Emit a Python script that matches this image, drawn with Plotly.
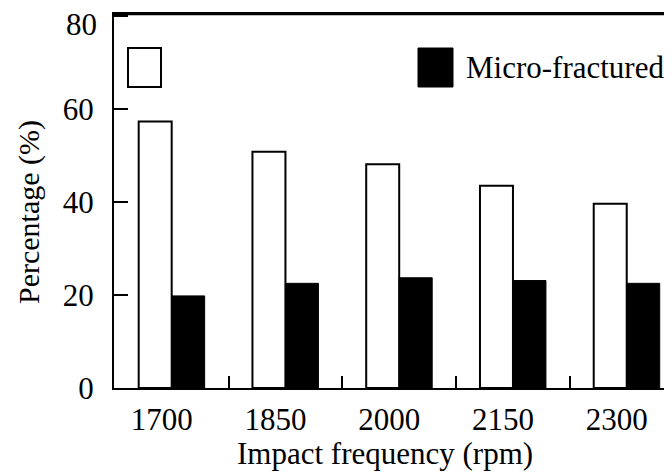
import plotly.graph_objects as go

categories = ["1700", "1850", "2000", "2150", "2300"]
white_values = [57.3, 50.8, 48.1, 43.5, 39.6]
black_values = [19.8, 22.5, 23.7, 23.1, 22.5]
legend_black = "Micro-fractured"
y_ticks = [0, 20, 40, 60, 80]
x_title = "Impact frequency (rpm)"
y_title = "Percentage (%)"

FONT = "Liberation Serif"
OFF = 8  # page body margin
W, H = 672 - OFF, 472 - OFF
L, T = 114 - OFF, 14 - OFF
R = 0
B = H - (388 - OFF)
PW, PH = W - L - R, H - T - B

def px(x):
    return (x - OFF - L) / PW

def py(y):
    return (H - B - (y - OFF)) / PH

xpos = list(range(len(categories)))

fig = go.Figure()
fig.add_trace(go.Bar(x=xpos, y=white_values, name="",
                     marker=dict(color="white", line=dict(color="black", width=2)),
                     showlegend=False))
fig.add_trace(go.Bar(x=xpos, y=black_values, name=legend_black,
                     marker=dict(color="black", line=dict(color="black", width=1)),
                     showlegend=False))

fig.update_layout(
    width=W, height=H,
    margin=dict(l=L, r=R, t=T, b=B, pad=0, autoexpand=False),
    paper_bgcolor="white", plot_bgcolor="white",
    barmode="group", bargap=0.42, bargroupgap=0,
    font=dict(family=FONT, size=31, color="black"),
    showlegend=False,
)

fig.update_xaxes(
    range=[-0.507, 4.398], automargin=False,
    tickvals=xpos, ticktext=categories,
    ticks="", showgrid=False, zeroline=False,
    showline=True, linecolor="black", linewidth=2, mirror=True,
    ticklabelshift=-10, ticklabelstandoff=3,
    tickfont=dict(family=FONT, size=31),
    minor=dict(tickvals=[0.5, 1.5, 2.5, 3.5], ticks="inside", ticklen=12,
               tickwidth=2, tickcolor="black", showgrid=False),
)
fig.update_yaxes(
    range=[0, 80.4], automargin=False,
    tickvals=y_ticks, ticktext=[str(v) if v != 80 else "" for v in y_ticks],
    ticks="inside", ticklen=14, tickwidth=2, tickcolor="black",
    showgrid=False, zeroline=False,
    showline=True, linecolor="black", linewidth=2, mirror=False,
    ticklabelstandoff=12,
    tickfont=dict(family=FONT, size=31),
)

# solid top frame line
fig.add_shape(type="line", xref="paper", yref="paper", x0=-0.002, x1=1, y0=1, y1=1,
              line=dict(color="black", width=2.5))

# top tick label drawn slightly lower as in the reference
fig.add_annotation(text="80", xref="paper", yref="y", x=0, y=80, xanchor="right",
                   yanchor="middle", xshift=-15, yshift=-9, showarrow=False,
                   font=dict(family=FONT, size=31))

# axis titles
fig.add_annotation(text=x_title, xref="paper", yref="paper", x=px(385), y=py(453),
                   xanchor="center", yanchor="middle", showarrow=False,
                   font=dict(family=FONT, size=31))
fig.add_annotation(text=y_title, xref="paper", yref="paper", x=px(29), y=py(212),
                   xanchor="center", yanchor="middle", textangle=-90, showarrow=False,
                   font=dict(family=FONT, size=30))

# legend swatches
fig.add_shape(type="rect", xref="paper", yref="paper",
              x0=px(128), x1=px(161), y0=py(87), y1=py(48),
              line=dict(color="black", width=2), fillcolor="white")
fig.add_shape(type="rect", xref="paper", yref="paper",
              x0=px(418), x1=px(453), y0=py(87), y1=py(48),
              line=dict(color="black", width=1), fillcolor="black")
fig.add_annotation(text=legend_black, xref="paper", yref="paper", x=px(464), y=py(67),
                   xanchor="left", yanchor="middle", showarrow=False,
                   font=dict(family=FONT, size=31))

fig.write_html("out.html")
